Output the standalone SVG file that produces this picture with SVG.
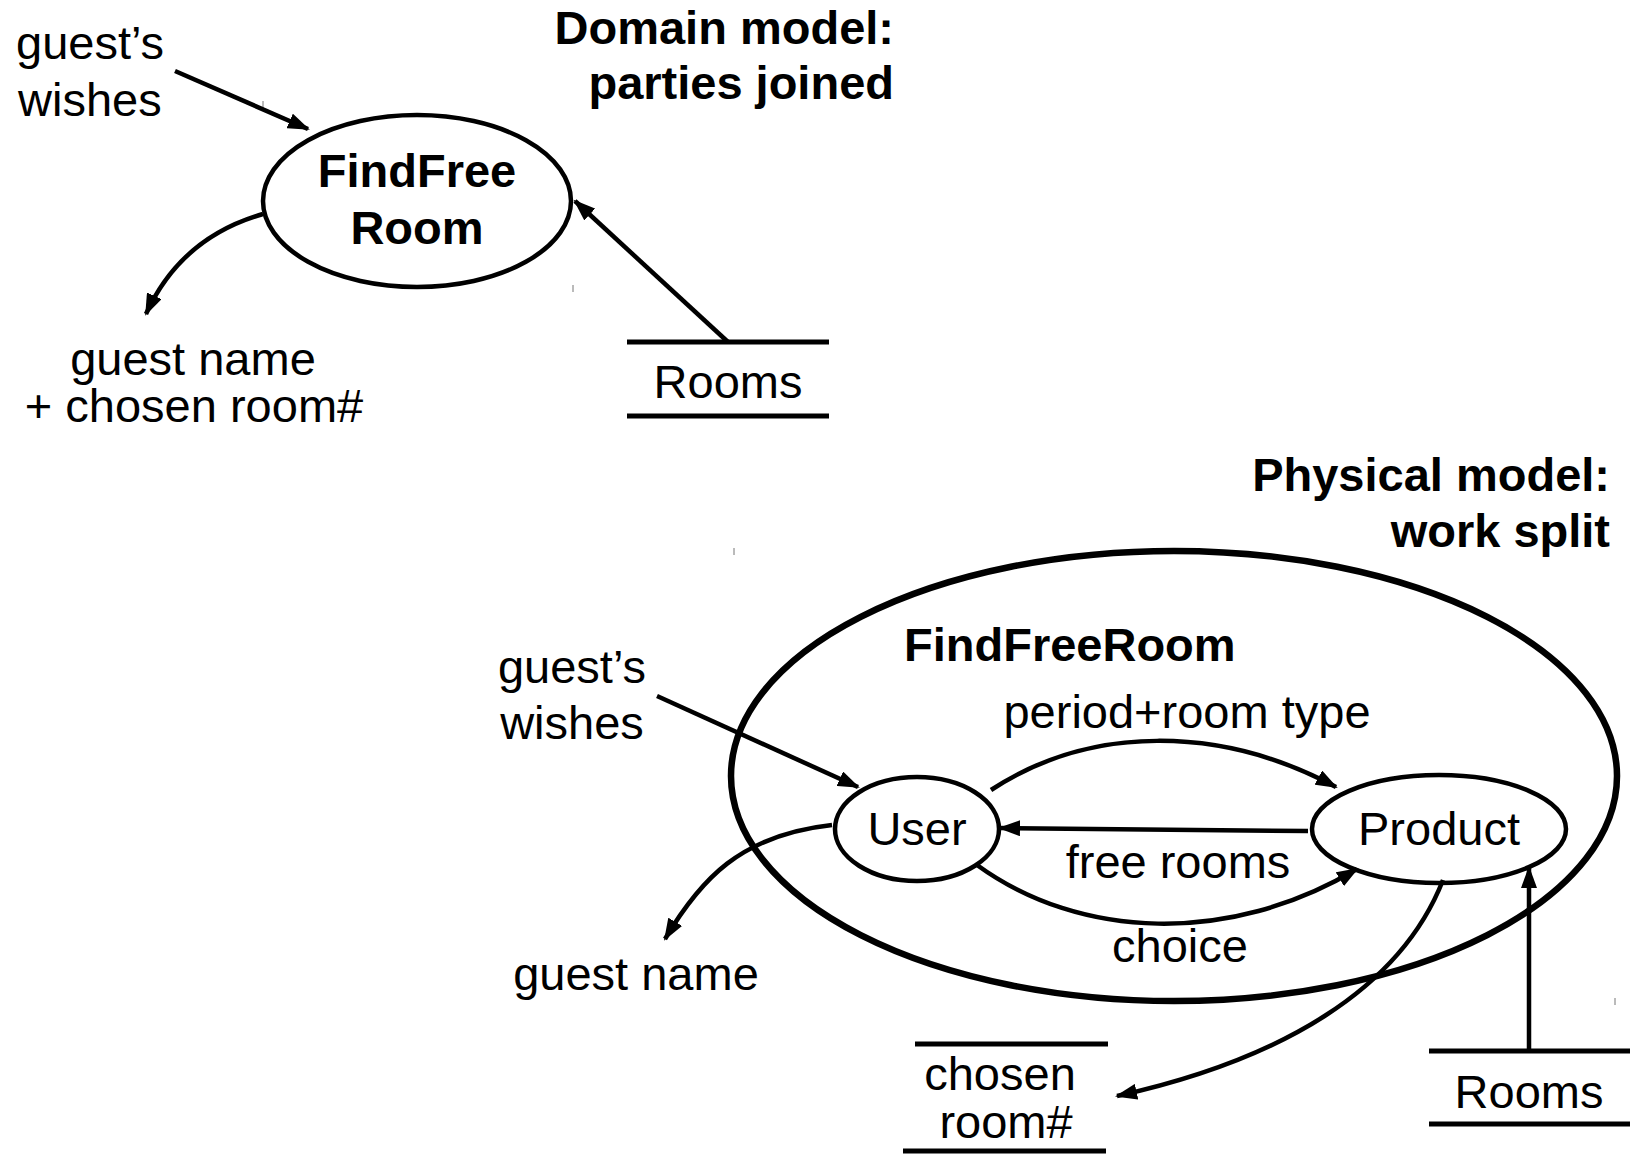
<svg xmlns="http://www.w3.org/2000/svg" width="1630" height="1154" viewBox="0 0 1630 1154">
<defs>
<style>
text{font-family:"Liberation Sans",Arial,sans-serif;font-size:47px;fill:#000}
.b{font-weight:bold}
.m{text-anchor:middle}
.e{text-anchor:end}
.n{fill:#fff;stroke:#000;stroke-width:4.5}
.c{fill:none;stroke:#000;stroke-width:4.5}
.s{stroke:#000;stroke-width:5}
.t{stroke:#777;stroke-width:1}
</style>
<marker id="a" markerUnits="userSpaceOnUse" markerWidth="22" markerHeight="16" refX="20" refY="8" orient="auto">
<path d="M0,0 L22,8 L0,16 z" fill="#000"/>
</marker>
</defs>
<rect width="1630" height="1154" fill="#fff"/>

<g id="titles">
<text class="b e" x="894" y="44">Domain model:</text>
<text class="b e" x="894" y="99">parties joined</text>
<text class="b e" x="1610" y="491">Physical model:</text>
<text class="b e" x="1610" y="547">work split</text>
</g>

<g id="ticks">
<line class="t" x1="263" y1="101" x2="263" y2="108"/>
<line class="t" x1="573" y1="285" x2="573" y2="292"/>
<line class="t" x1="734" y1="548" x2="734" y2="555"/>
<line class="t" x1="1615" y1="998" x2="1615" y2="1005"/>
</g>

<g id="node-findfree">
<ellipse class="n" cx="417" cy="201" rx="154" ry="86"/>
<text class="b m" x="417" y="187">FindFree</text>
<text class="b m" x="417" y="244">Room</text>
</g>

<g id="label-wishes-top">
<text x="16" y="59">guest’s</text>
<text x="18" y="116">wishes</text>
</g>

<g id="label-guestname-top">
<text class="m" x="193" y="375">guest name</text>
<text class="m" x="194" y="422">+ chosen room#</text>
</g>

<g id="store-rooms-top">
<line class="s" x1="627" y1="342" x2="829" y2="342"/>
<line class="s" x1="627" y1="416" x2="829" y2="416"/>
<text class="m" x="728" y="398">Rooms</text>
</g>

<g id="node-findfreeroom-big">
<ellipse cx="1174" cy="776" rx="443" ry="225" fill="none" stroke="#000" stroke-width="6.5"/>
<text class="b" x="904" y="661">FindFreeRoom</text>
</g>

<g id="node-user">
<ellipse class="n" cx="917" cy="829" rx="82" ry="52"/>
<text class="m" x="917" y="845">User</text>
</g>

<g id="node-product">
<ellipse class="n" cx="1439" cy="829" rx="127" ry="54"/>
<text class="m" x="1439" y="845">Product</text>
</g>

<g id="label-wishes-bottom">
<text class="m" x="572" y="683">guest’s</text>
<text class="m" x="572" y="739">wishes</text>
</g>

<g id="label-guestname-bottom">
<text class="m" x="636" y="990">guest name</text>
</g>

<g id="store-chosen">
<line class="s" x1="915" y1="1044" x2="1108" y2="1044"/>
<line class="s" x1="903" y1="1151" x2="1106" y2="1151"/>
<text class="m" x="1000" y="1090">chosen</text>
<text class="m" x="1006" y="1138">room#</text>
</g>

<g id="store-rooms-bottom">
<line class="s" x1="1429" y1="1051" x2="1630" y2="1051"/>
<line class="s" x1="1429" y1="1124" x2="1630" y2="1124"/>
<text class="m" x="1529" y="1108">Rooms</text>
</g>

<g id="connectors">
<line class="c" x1="175" y1="71" x2="308" y2="129" marker-end="url(#a)"/>
<path class="c" d="M263,214 C200,232 166,270 146,314" marker-end="url(#a)"/>
<line class="c" x1="728" y1="342" x2="575" y2="201" marker-end="url(#a)"/>
<line class="c" x1="657" y1="696" x2="858" y2="787" marker-end="url(#a)"/>
<path class="c" d="M832,825 C740,835 700,880 665,939" marker-end="url(#a)"/>
<path class="c" d="M991,790 C1090,725 1220,725 1336,787" marker-end="url(#a)"/>
<line class="c" x1="1308" y1="831" x2="1000" y2="828" marker-end="url(#a)"/>
<path class="c" d="M977,865 C1080,940 1230,945 1357,869" marker-end="url(#a)"/>
<path class="c" d="M1443,880 C1400,990 1280,1060 1117,1096" marker-end="url(#a)"/>
<line class="c" x1="1529" y1="1051" x2="1529" y2="868" marker-end="url(#a)"/>
<text class="m" x="1187" y="728">period+room type</text>
<text class="m" x="1178" y="878">free rooms</text>
<text class="m" x="1180" y="962">choice</text>
</g>
</svg>
